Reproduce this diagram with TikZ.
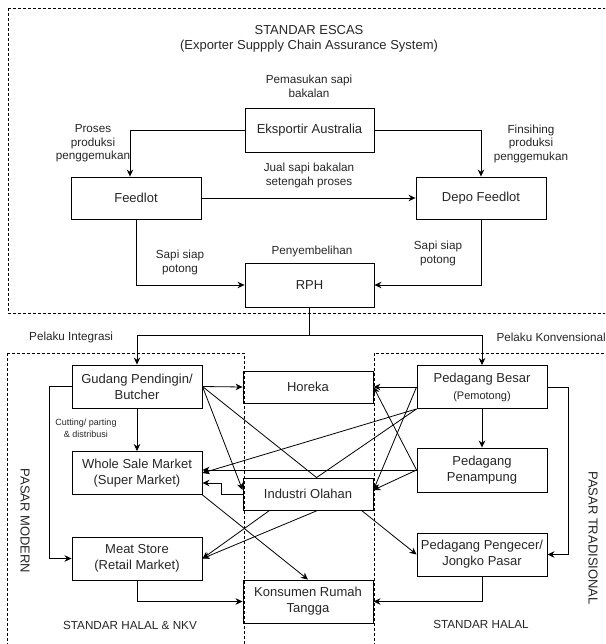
\documentclass[tikz,border=0pt]{standalone}
\usepackage{fontspec}
\setmainfont{Liberation Sans}
\usetikzlibrary{arrows.meta,calc}
\begin{document}
\begin{tikzpicture}[x=1pt,y=-1pt,
  box/.style={draw, line width=0.9pt, minimum width=130pt, minimum height=43pt, inner sep=0pt, align=center, font=\fontsize{13}{16}\selectfont, text=black!85},
  flat/.style={box, minimum height=32pt},
  lbl/.style={align=center, font=\fontsize{11.7}{13.5}\selectfont, text=black!85, inner sep=0pt},
  ttl/.style={align=center, font=\fontsize{13}{16.5}\selectfont, text=black!85, inner sep=0pt},
  con/.style={line width=0.8pt, -{Stealth[length=7pt,width=6.5pt]}},
  ln/.style={line width=0.8pt},
  zone/.style={draw, line width=0.7pt, dash pattern=on 3pt off 2pt},
]
\useasboundingbox (0,0) rectangle (605,644);
\clip (0,0) rectangle (605,644);
% zones
\draw[zone] (8,8) rectangle (612,313);
\draw[zone] (7,353) rectangle (244,660);
\draw[zone] (374,353) rectangle (612,660);

% titles
\node[ttl] (t1) at (309,30) {STANDAR ESCAS};
\node[ttl] (t2) at (309,46) {(Exporter Suppply Chain Assurance System)};

% boxes top
\node[box, minimum width=129pt, minimum height=44pt] (eks) at (309.5,130) {Eksportir Australia};
\node[box, minimum height=42pt] (feed) at (136,198) {Feedlot};
\node[box, minimum height=42pt] (depo) at (481,198) {Depo Feedlot};
\node[box, minimum width=129pt, minimum height=44pt] (rph) at (309.5,285) {RPH};

% boxes bottom
\node[box] (gud) at (137,386.5) {Gudang Pendingin/\\Butcher};
\node[flat] (hor) at (308,387) {Horeka};
\node[box] (besar) at (482,387) {Pedagang Besar\\[1pt]{\fontsize{11}{13}\selectfont(Pemotong)}};
\node[box] (whole) at (137,473) {Whole Sale Market\\(Super Market)};
\node[box, minimum height=44pt] (pen) at (482,470) {Pedagang\\Penampung};
\node[flat] (ind) at (308,494) {Industri Olahan};
\node[box] (meat) at (137,558.5) {Meat Store\\(Retail Market)};
\node[box] (ecer) at (482,554.5) {Pedagang Pengecer/\\Jongko Pasar};
\node[box] (kon) at (308,601.5) {Konsumen Rumah\\Tangga};

% labels
\node[lbl] (l1) at (309,86.5) {Pemasukan sapi\\bakalan};
\node[lbl] (l2) at (93,143.5) {Proses\\produksi\\penggemukan};
\node[lbl] (l3) at (531,143.5) {Finsihing\\produksi\\penggemukan};
\node[lbl] (l4) at (309,175.5) {Jual sapi bakalan\\setengah proses};
\node[lbl] (l5) at (180,262.5) {Sapi siap\\potong};
\node[lbl] (l6) at (438,253.5) {Sapi siap\\potong};
\node[lbl] (l7) at (312,251) {Penyembelihan};
\node[lbl, anchor=west] (l8) at (29,337) {Pelaku Integrasi};
\node[lbl, anchor=east] (l9) at (606,337) {Pelaku Konvensional};
\node[lbl, font=\fontsize{9}{12.5}\selectfont] (l10) at (86,428.5) {Cutting/ parting\\\& distribusi};
\node[lbl] (l11) at (130,625) {STANDAR HALAL \& NKV};
\node[lbl] (l12) at (481,624) {STANDAR HALAL};
\node[ttl, rotate=-90] (l13) at (25,521) {PASAR MODERN};
\node[ttl, rotate=-90] (l14) at (593,538) {PASAR TRADISIONAL};

% top connectors
\draw[con] (eks.west) -| ([xshift=-6pt]feed.north);
\draw[con] (eks.east) -| (depo.north);
\draw[con] (feed.east) -- (depo.west);
\draw[con] (feed.south) |- (rph.west);
\draw[con] (depo.south) |- (rph.east);
\coordinate (split) at (309.5,335);
\draw[ln] (rph.south) -- (split);
\draw[con] (split) -| (gud.north);
\draw[con] (split) -| (besar.north);

% bottom connectors
\draw[con] (gud.east) -- (hor.west);
\draw[con] (gud.east) -- ([yshift=4pt]ind.west);
\coordinate (vpt) at ($(ind.north west)+(74,0)$);
\draw[ln] (gud.east) -- (vpt) -- (besar.south west);
\draw[con] (gud.south) -- (whole.north);
\draw[con] (gud.west) -- ++(-22,0) |- (meat.west);

\draw[con] (besar.west) -- (hor.east);
\draw[con] (besar.west) -- ([yshift=4pt]ind.east);
\draw[con] (besar.south west) -- (whole.east);
\draw[con] (besar.south) -- (pen.north);
\draw[con] (besar.east) -- ++(21,0) |- (ecer.east);

\draw[con] (pen.west) -- (hor.east);
\draw[con] (pen.west) -- ([yshift=4pt]ind.east);
\draw[con] (pen.west) -- (pen.west -| whole.east);

\draw[con] (ind.west) -- ++(-21,0) |- ([yshift=-10pt]whole.east);
\draw[con] ($(ind.south west)+(27,0)$) -- (meat.east);
\draw[con] ($(ind.south west)+(75,0)$) -- (meat.east);
\draw[con] ($(ind.south west)+(119,0)$) -- (ecer.west);

\draw[con] (whole.south east) -- (kon.north);
\draw[con] (meat.south) |- (kon.west);
\draw[con] (ecer.south) |- (kon.east);
\end{tikzpicture}
\end{document}
